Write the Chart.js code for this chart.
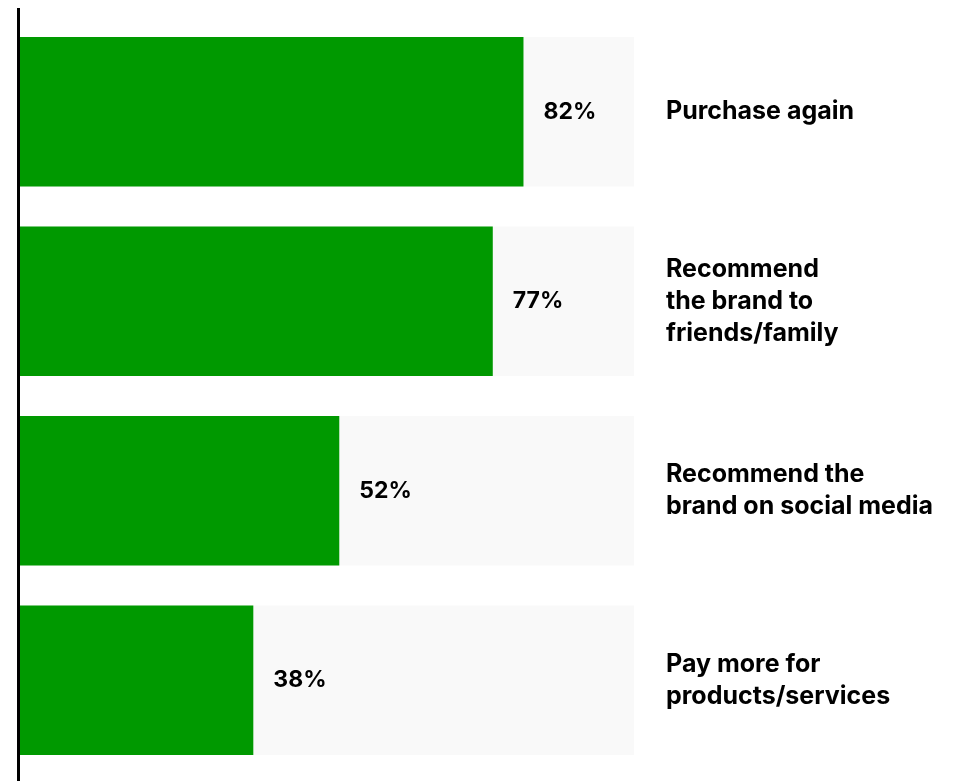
<!DOCTYPE html>
<html>
<head>
<meta charset="utf-8">
<script src="https://cdn.jsdelivr.net/npm/chart.js@4.4.1/dist/chart.umd.min.js"></script>
<style>
  html, body { margin: 0; padding: 0; background: #fff; }
  #wrap { width: 957px; height: 781px; }
</style>
</head>
<body>
<div id="wrap"><canvas id="chart"></canvas></div>
<script>
// Share of customers who would take each action
const categories = [
  ['Purchase again'],
  ['Recommend', 'the brand to', 'friends/family'],
  ['Recommend the', 'brand on social media'],
  ['Pay more for', 'products/services']
];
const shares = [82, 77, 52, 38];
const track = [100, 100, 100, 100];

const FAMILY = 'Inter, "Liberation Sans", sans-serif';
const LINE_HEIGHT = 32;

// vertical rule along the left edge of the plot
const leftRule = {
  id: 'leftRule',
  afterDraw(chart) {
    const { ctx, chartArea } = chart;
    ctx.save();
    ctx.strokeStyle = '#000';
    ctx.lineWidth = 3;
    ctx.beginPath();
    ctx.moveTo(chartArea.left - 1.5, 8);
    ctx.lineTo(chartArea.left - 1.5, chart.height);
    ctx.stroke();
    ctx.restore();
  }
};

// percentage just past the end of each green bar, category text to the right
const barLabels = {
  id: 'barLabels',
  afterDatasetsDraw(chart) {
    const { ctx, chartArea } = chart;
    const meta = chart.getDatasetMeta(0);
    ctx.save();
    ctx.fillStyle = '#000';
    ctx.textAlign = 'left';
    ctx.textBaseline = 'middle';
    meta.data.forEach((bar, i) => {
      ctx.font = `700 23px ${FAMILY}`;
      ctx.fillText(shares[i] + '%', bar.x + 20, bar.y);

      const lines = categories[i];
      const top = bar.y - (lines.length - 1) * LINE_HEIGHT / 2;
      ctx.font = `700 25px ${FAMILY}`;
      lines.forEach((line, j) => {
        ctx.fillText(line, chartArea.right + 32, top + j * LINE_HEIGHT);
      });
    });
    ctx.restore();
  }
};

new Chart(document.getElementById('chart'), {
  type: 'bar',
  data: {
    labels: categories.map((c) => c.join(' ')),
    datasets: [
      {
        data: shares,
        backgroundColor: '#009900',
        order: 0,
        grouped: false,
        barPercentage: 1,
        categoryPercentage: 0.79
      },
      {
        data: track,
        backgroundColor: '#f9f9f9',
        order: 1,
        grouped: false,
        barPercentage: 1,
        categoryPercentage: 0.79
      }
    ]
  },
  options: {
    indexAxis: 'y',
    responsive: true,
    maintainAspectRatio: false,
    animation: false,
    layout: { padding: { left: 20, top: 17, bottom: 6, right: 323 } },
    plugins: {
      legend: { display: false },
      tooltip: { enabled: false }
    },
    scales: {
      x: { display: false, min: 0, max: 100 },
      y: { display: false }
    }
  },
  plugins: [leftRule, barLabels]
});
</script>
</body>
</html>
